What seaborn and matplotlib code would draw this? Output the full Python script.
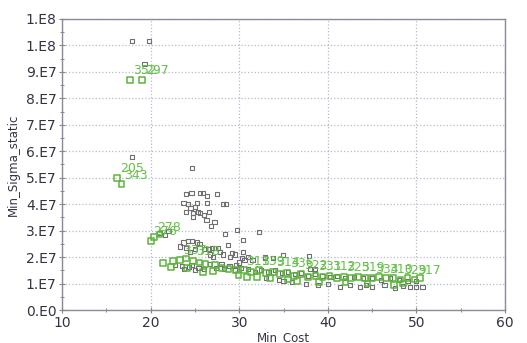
import matplotlib
matplotlib.use("Agg")
import matplotlib.pyplot as plt
import seaborn as sns
import pandas as pd
from matplotlib.ticker import MultipleLocator

sns.set_theme(style="white")
plt.rcParams['font.family'] = ['DejaVu Sans']

# ---- data (sigma in units of 1e7) ----
gray_cost = [17.9, 19.8, 19.3, 17.9, 24.7,
             24.0, 24.6, 25.6, 25.9, 26.4, 27.5, 23.7, 24.2, 25.2, 26.4, 28.2, 28.5,
             24.0, 24.8, 25.6, 26.6, 24.8, 26.3, 27.2, 26.8, 25.0, 24.5, 26.0, 25.3,
             28.4, 29.7, 32.2, 30.4, 28.7, 32.9, 33.8, 34.9, 37.9, 21.0, 22.0, 21.6,
             23.7, 24.2, 24.7, 25.2, 25.5, 23.3, 24.0, 25.0, 24.4, 26.0, 26.6, 27.3,
             27.8, 28.2, 26.7, 29.0, 29.5, 30.3, 31.0, 31.5, 30.6, 27.0, 26.9, 27.6,
             29.2, 30.4, 32.9,
             22.7, 23.5, 24.6, 25.4, 26.0, 26.7, 27.4, 28.3, 28.9, 29.5, 30.2, 31.0,
             31.8, 32.5, 33.3, 34.0, 34.8, 35.5, 36.3, 37.0, 37.8, 38.6, 39.4, 40.3,
             41.0, 42.0, 43.0, 44.0, 45.0, 46.0, 47.0, 48.0, 49.0, 50.0,
             38.9, 41.4, 43.6, 45.0, 46.4, 47.6, 49.3, 50.0, 50.7, 36.0, 35.0, 37.5,
             40.0, 42.5, 44.3, 48.5, 33.0, 34.5, 38.0, 38.6, 23.8, 24.3, 25.0, 29.6,
             30.0, 28.0]
gray_sigma = [10.15, 10.15, 9.3, 5.77, 5.36,
              4.38, 4.42, 4.42, 4.42, 4.30, 4.38, 4.04, 4.00, 4.04, 4.04, 4.00, 4.00,
              3.70, 3.66, 3.66, 3.70, 3.50, 3.40, 3.32, 3.17, 3.90, 3.85, 3.60, 3.72,
              2.87, 3.02, 2.94, 2.64, 2.45, 1.96, 1.96, 2.08, 2.04, 2.90, 3.00, 2.85,
              2.55, 2.60, 2.60, 2.55, 2.50, 2.40, 2.35, 2.30, 2.20, 2.30, 2.30, 2.35,
              2.20, 2.10, 2.10, 2.00, 2.10, 1.98, 2.00, 1.90, 1.90, 2.00, 2.34, 2.34,
              2.15, 2.19, 2.00,
              1.70, 1.65, 1.70, 1.60, 1.55, 1.75, 1.60, 1.55, 1.65, 1.50, 1.60, 1.55,
              1.45, 1.50, 1.45, 1.50, 1.40, 1.45, 1.35, 1.40, 1.30, 1.35, 1.30, 1.25,
              1.30, 1.20, 1.25, 1.20, 1.20, 1.15, 1.20, 1.15, 1.10, 1.10,
              0.94, 0.87, 0.87, 0.87, 0.94, 0.83, 0.87, 0.87, 0.87, 1.05, 1.10, 1.00,
              1.00, 0.95, 0.95, 0.90, 1.20, 1.15, 1.55, 1.55, 1.55, 1.62, 1.50, 1.70,
              1.80, 1.75]

green_cost = [17.7, 19.0, 16.2, 16.7, 20.0, 20.4, 21.0,
              21.4, 22.3, 24.1, 25.9, 27.0, 29.9, 30.9, 32.0,
              22.5, 23.3, 24.0, 24.8, 25.5, 26.2, 27.3, 28.0, 28.8, 29.6, 30.5, 31.3,
              32.2, 33.0, 33.8, 34.6, 35.4, 36.2, 37.0, 37.8, 38.6, 39.4, 40.2, 41.0,
              41.8, 42.6, 43.4, 44.2, 45.0, 45.8, 46.6, 47.4, 48.2, 49.0, 49.8, 50.4,
              36.5, 39.0, 42.0, 44.5, 47.5, 48.5, 35.5, 33.5]
green_sigma = [8.70, 8.70, 5.00, 4.75, 2.60, 2.75, 2.85,
               1.77, 1.62, 1.58, 1.43, 1.47, 1.32, 1.25, 1.25,
               1.85, 1.90, 1.95, 1.85, 1.80, 1.75, 1.70, 1.60, 1.55, 1.50, 1.50, 1.45,
               1.50, 1.40, 1.45, 1.35, 1.40, 1.30, 1.35, 1.25, 1.30, 1.25, 1.30, 1.20,
               1.25, 1.20, 1.25, 1.20, 1.20, 1.25, 1.20, 1.20, 1.15, 1.20, 1.15, 1.20,
               1.10, 1.05, 1.05, 1.00, 0.95, 1.00, 1.15, 1.20]
green_labels = ["352", "297", "205", "343", "276", "278", "",
                "", "", "", "", "", "", "", "",
                "", "337", "", "318", "", "", "", "", "", "", "311", "",
                "339", "", "314", "", "336", "", "322", "", "331", "", "312", "",
                "325", "", "319", "", "334", "", "310", "", "329", "", "317", "",
                "", "", "", "", "", "", "", ""]

y_ticks = [0, 1, 2, 3, 4, 5, 6, 7, 8, 9, 10, 11]
y_tick_labels = ["0.E0", "1.E7", "2.E7", "3.E7", "4.E7", "5.E7", "6.E7",
                 "7.E7", "8.E7", "9.E7", "1.E8", "1.E8"]
x_ticks = [10, 20, 30, 40, 50, 60]

SCALE = 1e7
gray_df = pd.DataFrame({"Min_Cost": gray_cost,
                        "Min_Sigma_static": [v * SCALE for v in gray_sigma]})
green_df = pd.DataFrame({"Min_Cost": green_cost,
                         "Min_Sigma_static": [v * SCALE for v in green_sigma],
                         "label": green_labels})

fig = plt.figure(figsize=(5.27, 3.43), dpi=100)
ax = fig.add_axes([0.118, 0.096, 0.840, 0.849])

ax.grid(True, which="major", linestyle=":", color="#b3bbd3", linewidth=0.9)
ax.set_axisbelow(True)

sns.scatterplot(data=gray_df, x="Min_Cost", y="Min_Sigma_static", ax=ax,
                marker="s", s=9, facecolor="none", edgecolor="#707070",
                linewidth=0.8, zorder=3)
sns.scatterplot(data=green_df, x="Min_Cost", y="Min_Sigma_static", ax=ax,
                marker="s", s=17, facecolor="none", edgecolor="#5db43c",
                linewidth=1.1, zorder=4)

for cx, cy, lab in zip(green_df["Min_Cost"], green_df["Min_Sigma_static"], green_df["label"]):
    if lab:
        ax.annotate(lab, (cx, cy), xytext=(2, 2), textcoords="offset points",
                    color="#66c04a", fontsize=9, zorder=5, va="bottom", ha="left")

ax.set_xlim(10, 60)
ax.set_ylim(0, 11 * SCALE)
ax.set_xticks(x_ticks)
ax.set_xticklabels([str(t) for t in x_ticks])
ax.set_yticks([t * SCALE for t in y_ticks])
ax.set_yticklabels(y_tick_labels)
ax.xaxis.set_minor_locator(MultipleLocator(5))
ax.yaxis.set_minor_locator(MultipleLocator(0.5 * SCALE))

ax.tick_params(axis="both", which="major", direction="inout", length=4,
               width=0.8, color="#888888", labelsize=10, labelcolor="#333344", pad=2)
ax.tick_params(axis="both", which="minor", direction="inout", length=3,
               width=0.7, color="#888888")
ax.tick_params(axis="x", which="both", bottom=True)
ax.tick_params(axis="y", which="both", left=True)

for side in ["left", "bottom", "top", "right"]:
    ax.spines[side].set_visible(True)
    ax.spines[side].set_color("#8a8a99")
    ax.spines[side].set_linewidth(1.0)

ax.set_xlabel("Min_Cost", fontsize=8.5, color="#333344", labelpad=1)
ax.set_ylabel("Min_Sigma_static", fontsize=8.5, color="#333344", labelpad=4)

fig.savefig("out.png", dpi=100, facecolor="white")
